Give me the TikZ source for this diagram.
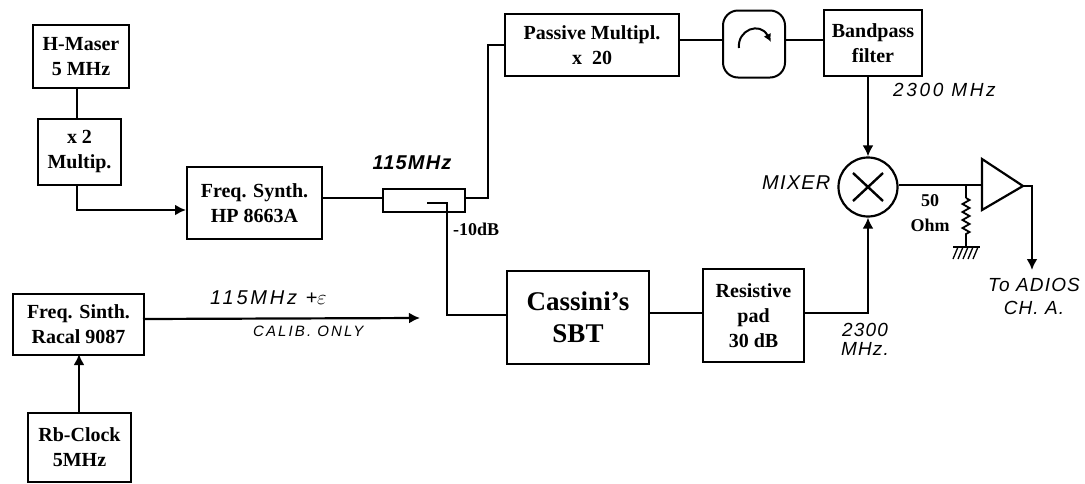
\documentclass[tikz,border=0pt]{standalone}
\usepackage{fontspec}
\setmainfont{Liberation Serif}
\newfontfamily\hand[LetterSpace=6]{Liberation Sans}
\newfontfamily\handwide[LetterSpace=14]{Liberation Sans}
\usetikzlibrary{arrows.meta,decorations.pathmorphing}
\tikzset{
 x=1pt,y=-1pt,
 blockbox/.style={draw,line width=2pt,align=center,font=\bfseries\fontsize{20}{25}\selectfont,inner sep=0pt,anchor=north west},
 wire/.style={line width=2.2pt},
 arrowwire/.style={wire,-{Latex[length=11pt,width=11pt]}},
 handtext/.style={font=\hand\itshape\fontsize{20}{20}\selectfont,inner sep=0pt,align=center},
 handsmall/.style={font=\handwide\itshape\fontsize{15}{15}\selectfont,inner sep=0pt,align=center},
 printtext/.style={font=\bfseries\fontsize{18}{24}\selectfont,inner sep=0pt,align=center},
}
\newcommand{\blk}[6]{\node[blockbox,minimum width=#4-#2,minimum height=#5-#3] (#1) at (#2,#3) {#6};}
\begin{document}
\begin{tikzpicture}
\useasboundingbox (0,0) rectangle (1085,483);
\blk{maser}{32}{24}{128}{87}{H-Maser\\5 MHz}
\blk{mult}{37}{118}{120}{184}{x 2\\Multip.}
\blk{synth}{186}{166}{321}{238}{Freq. Synth.\\HP 8663A}
\blk{racal}{12}{293}{143}{354}{Freq. Sinth.\\Racal 9087}
\blk{rb}{27}{412}{130}{481}{Rb-Clock\\5MHz}
\blk{passive}{504}{13}{678}{75}{Passive Multipl.\\x~~20\hspace{28pt}}
\node[draw,line width=2pt,rounded corners=15pt,minimum width=62pt,minimum height=67pt,inner sep=0pt] (circ) at (754,44) {};
\blk{band}{823}{9}{921}{75}{Bandpass\\filter}
\node[draw,line width=2pt,minimum width=82pt,minimum height=23pt,inner sep=0pt] (coupler) at (424,200.5) {};
\blk{sbt}{506}{270}{648}{363}{\fontsize{27}{34}\selectfont Cassini's\\[7pt]\fontsize{27}{34}\selectfont SBT}
\blk{pad}{702}{268}{803}{361}{Resistive\\pad\\30 dB}
\node[draw,circle,line width=2.2pt,minimum size=59pt,inner sep=0pt] (mixer) at (868,187) {};
\draw[line width=2.4pt] (853,173) -- (883,201);
\draw[line width=2.4pt] (883,173) -- (853,201);
% circulator arrow
\draw[line width=2pt,-{Latex[length=8pt,width=8pt]}] (739,48) .. controls (737,30) and (760,21) .. (771,42);
% amplifier
\coordinate (ampa) at (982,159);
\coordinate (ampb) at (982,210);
\coordinate (amptip) at (1023,186);
\coordinate (ampin) at (982,185);
\draw[line width=2.2pt,line join=miter] (ampa) -- (amptip) -- (ampb) -- cycle;
% named waypoints
\coordinate (cin) at (383,198);
\coordinate (cout) at (465,198);
\coordinate (cbend) at (488,198);
\coordinate (tap) at (427,203);
\coordinate (tapb) at (447,203);
\coordinate (sbtin) at (506,315);
\coordinate (wy) at (700,40);
\coordinate (multb) at (77,184);
\coordinate (synthin) at (186,210);
\coordinate (mtop) at (77,87);
\coordinate (mbot) at (77,118);
\coordinate (rbtop) at (79,412);
\coordinate (racalb) at (79,354);
\coordinate (calibend) at (420,318);
\coordinate (racalout) at (143,319);
\coordinate (padout) at (803,313);
\coordinate (sbtout) at (648,313);
\coordinate (padin) at (702,313);
\coordinate (outcorner) at (1032,186);
\coordinate (adios) at (1032,270);
\coordinate (rtop) at (966,185);
\coordinate (rstart) at (966,198);
\coordinate (rend) at (966,237);
\coordinate (rbot) at (966,247);
% connectors
\draw[wire] (mtop) -- (mbot);
\draw[arrowwire] (multb) |- (synthin);
\draw[wire] (synth.east |- cin) -- (cin);
\draw[wire] (cout) -- (cbend) |- (passive.west);
\draw[wire] (tap) -- (tapb) |- (sbtin);
\draw[wire] (passive.east |- wy) -- (circ.west |- wy);
\draw[wire] (circ.east |- wy) -- (band.west |- wy);
\draw[arrowwire] (mixer.north |- band.south) -- (mixer.north);
\draw[wire] (sbtout) -- (padin);
\draw[arrowwire] (padout) -| (mixer.south);
\draw[wire] (mixer.east |- ampin) -- (ampin);
\draw[arrowwire] (amptip) -- (outcorner) -- (adios);
\draw[arrowwire] (rbtop) -- (racalb);
\draw[arrowwire] (racalout) -- (calibend);
% resistor and ground
\draw[line width=1.6pt] (rtop) -- (rstart);
\draw[line width=1.8pt,decorate,decoration={zigzag,amplitude=3.5pt,segment length=8pt}] (rstart) -- (rend);
\draw[line width=1.6pt] (rend) -- (rbot);
\draw[line width=1.6pt] (953,247) -- (980,247);
\foreach \gx in {958,963,968,973,978} \draw[line width=1.3pt] (\gx,247) -- (\gx-5,259);
% labels
\node[handtext,font=\hand\itshape\bfseries\fontsize{20}{20}\selectfont] (lab115) at (412,163) {115MHz};
\node[printtext,anchor=west] (labdb) at (453,229) {-10dB};
\node[handtext,anchor=west,font=\handwide\itshape\fontsize{20}{20}\selectfont] (labeps) at (210,298) {115MHz +$\varepsilon$};
\node[handsmall,anchor=west] (labcal) at (253,331) {CALIB. ONLY};
\node[handtext,anchor=west,font=\handwide\itshape\fontsize{19}{20}\selectfont] (lab23a) at (893,90) {2300 MHz};
\node[handtext,anchor=west] (labmix) at (762,183) {MIXER};
\node[handtext,font=\hand\itshape\fontsize{19}{19}\selectfont] (lab23b) at (865,339.5) {2300\\MHz.};
\node[printtext,font=\bfseries\fontsize{18}{25}\selectfont] (lab50) at (930,213.5) {50\\Ohm};
\node[handtext,font=\hand\itshape\fontsize{19}{23}\selectfont] (labto) at (1034,296) {To ADIOS\\CH. A.};
\end{tikzpicture}
\end{document}
